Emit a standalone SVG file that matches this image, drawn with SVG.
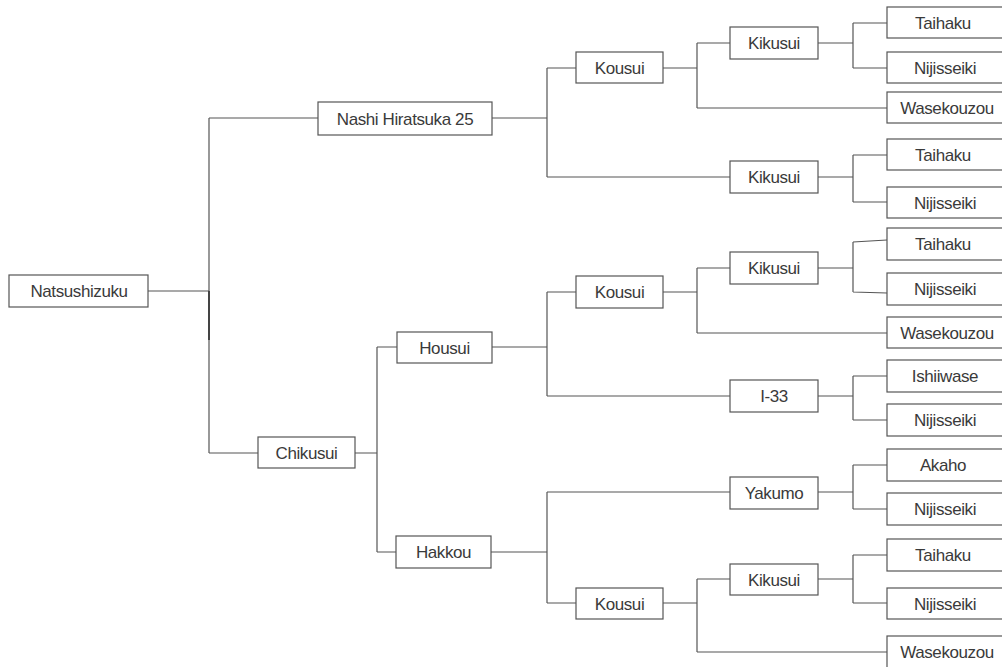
<svg xmlns="http://www.w3.org/2000/svg" width="1002" height="667" viewBox="0 0 1002 667">
<style>
.box{fill:#fff;stroke:#555;stroke-width:1.2}
.lbl{font-family:"Liberation Sans",Arial,sans-serif;font-size:17px;fill:#3a3a3a;text-anchor:middle;letter-spacing:-0.4px}
.c path{fill:none;stroke:#555;stroke-width:1.2}
</style>
<rect width="1002" height="667" fill="#fff"/>
<g class="c" id="connectors">
<path d="M148,291H209M209,118V453M209,118H318M209,453H258"/>
<path d="M209,291V340" style="stroke-width:2;stroke:#444"/>
<path d="M492,118H547M547,68V177M547,68H576M547,177H730"/>
<path d="M663,68H697M697,43V108M697,43H730M697,108H887"/>
<path d="M818,43H853M853,23V68M853,23H887M853,68H887"/>
<path d="M818,177H853M853,155V202M853,155H887M853,202H887"/>
<path d="M355,453H377M377,347V552M377,347H397M377,552H396"/>
<path d="M492,347H547M547,292V396M547,292H576M547,396H730"/>
<path d="M663,292H697M697,268V333M697,268H730M697,333H887"/>
<path d="M818,268H853M853,242V292M853,242L887,240M853,292L887,293"/>
<path d="M818,396H853M853,376V420M853,376H887M853,420H887"/>
<path d="M491,552H547M547,492V603M547,492H730M547,603H576"/>
<path d="M818,492H853M853,465V509M853,465H887M853,509H887"/>
<path d="M663,603H697M697,579V652M697,579H730M697,652H887"/>
<path d="M818,579H853M853,555V603M853,555H887M853,603H887"/>
</g>
<g id="n0"><rect class="box" x="9" y="275" width="139" height="32"/><text class="lbl" x="79" y="297">Natsushizuku</text></g>
<g id="n1"><rect class="box" x="318" y="102" width="174" height="33"/><text class="lbl" x="405" y="124.5">Nashi Hiratsuka 25</text></g>
<g id="n2"><rect class="box" x="258" y="437" width="97" height="31"/><text class="lbl" x="306.5" y="458.5">Chikusui</text></g>
<g id="n3"><rect class="box" x="576" y="52" width="87" height="31"/><text class="lbl" x="619.5" y="73.5">Kousui</text></g>
<g id="n4"><rect class="box" x="730" y="27" width="88" height="32"/><text class="lbl" x="774" y="49">Kikusui</text></g>
<g id="n5"><rect class="box" x="887" y="7" width="116" height="31"/><text class="lbl" x="943" y="28.5">Taihaku</text></g>
<g id="n6"><rect class="box" x="887" y="52" width="116" height="31"/><text class="lbl" x="945" y="73.5">Nijisseiki</text></g>
<g id="n7"><rect class="box" x="887" y="92" width="116" height="31"/><text class="lbl" x="947" y="113.5">Wasekouzou</text></g>
<g id="n8"><rect class="box" x="730" y="161" width="88" height="32"/><text class="lbl" x="774" y="183">Kikusui</text></g>
<g id="n9"><rect class="box" x="887" y="139" width="116" height="31"/><text class="lbl" x="943" y="160.5">Taihaku</text></g>
<g id="n10"><rect class="box" x="887" y="187" width="116" height="31"/><text class="lbl" x="945" y="208.5">Nijisseiki</text></g>
<g id="n11"><rect class="box" x="397" y="332" width="95" height="31"/><text class="lbl" x="444.5" y="353.5">Housui</text></g>
<g id="n12"><rect class="box" x="396" y="536" width="95" height="32"/><text class="lbl" x="443.5" y="558">Hakkou</text></g>
<g id="n13"><rect class="box" x="576" y="276" width="87" height="32"/><text class="lbl" x="619.5" y="298">Kousui</text></g>
<g id="n14"><rect class="box" x="730" y="252" width="88" height="32"/><text class="lbl" x="774" y="274">Kikusui</text></g>
<g id="n15"><rect class="box" x="887" y="228" width="116" height="32"/><text class="lbl" x="943" y="250">Taihaku</text></g>
<g id="n16"><rect class="box" x="887" y="273" width="116" height="32"/><text class="lbl" x="945" y="295">Nijisseiki</text></g>
<g id="n17"><rect class="box" x="887" y="317" width="116" height="31"/><text class="lbl" x="947" y="338.5">Wasekouzou</text></g>
<g id="n18"><rect class="box" x="730" y="380" width="88" height="32"/><text class="lbl" x="774" y="402">I-33</text></g>
<g id="n19"><rect class="box" x="887" y="360" width="116" height="32"/><text class="lbl" x="945" y="382">Ishiiwase</text></g>
<g id="n20"><rect class="box" x="887" y="404" width="116" height="32"/><text class="lbl" x="945" y="426">Nijisseiki</text></g>
<g id="n21"><rect class="box" x="730" y="477" width="88" height="32"/><text class="lbl" x="774" y="499">Yakumo</text></g>
<g id="n22"><rect class="box" x="887" y="449" width="116" height="32"/><text class="lbl" x="943" y="471">Akaho</text></g>
<g id="n23"><rect class="box" x="887" y="493" width="116" height="32"/><text class="lbl" x="945" y="515">Nijisseiki</text></g>
<g id="n24"><rect class="box" x="576" y="588" width="87" height="31"/><text class="lbl" x="619.5" y="609.5">Kousui</text></g>
<g id="n25"><rect class="box" x="730" y="564" width="88" height="31"/><text class="lbl" x="774" y="585.5">Kikusui</text></g>
<g id="n26"><rect class="box" x="887" y="539" width="116" height="32"/><text class="lbl" x="943" y="561">Taihaku</text></g>
<g id="n27"><rect class="box" x="887" y="588" width="116" height="31"/><text class="lbl" x="945" y="609.5">Nijisseiki</text></g>
<g id="n28"><rect class="box" x="887" y="636" width="116" height="32"/><text class="lbl" x="947" y="658">Wasekouzou</text></g>
</svg>
